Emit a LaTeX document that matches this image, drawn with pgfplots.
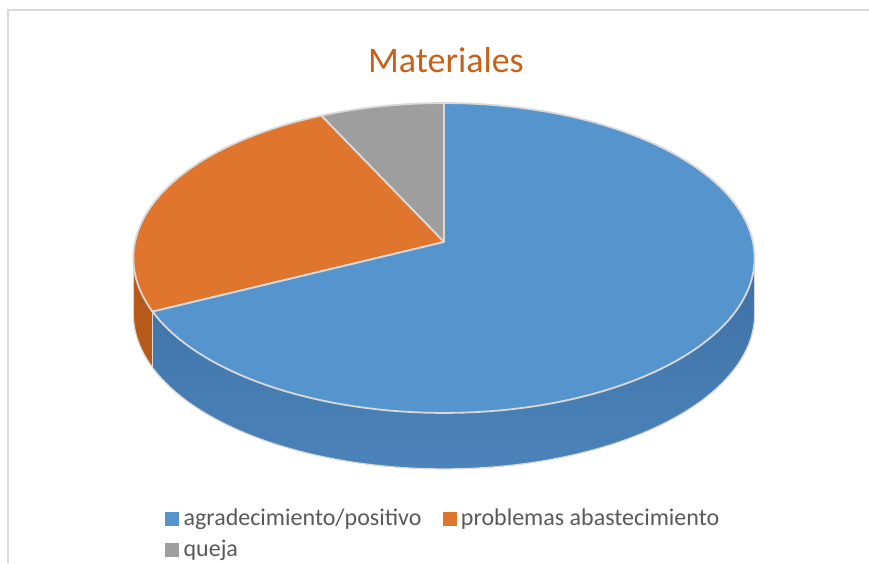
\documentclass[border=0pt]{standalone}
\usepackage{pgfplots}
\pgfplotsset{compat=1.18}
\usepackage{pgfplotstable}
\usepgfplotslibrary{fillbetween}
\usepackage{fontspec}
\setmainfont{Carlito}
\definecolor{cBlue}{HTML}{5694CE}
\definecolor{cBlueSideA}{HTML}{3E70A4}
\definecolor{cBlueSideB}{HTML}{4A85BE}
\definecolor{cBlueSideC}{HTML}{4B84BA}
\definecolor{cOrange}{HTML}{E0762E}
\definecolor{cOrangeSide}{HTML}{B65A1C}
\definecolor{cGray}{HTML}{9E9E9E}
\definecolor{cEdge}{HTML}{D9D9D9}
\definecolor{cTitle}{HTML}{C8601A}
\definecolor{cLegend}{HTML}{595959}
\definecolor{cFrame}{HTML}{D9D9D9}
\pgfplotstableread[col sep=comma]{
cat,value
agradecimiento/positivo,19
problemas abastecimiento,7
queja,2
}\piedata
\pgfplotstablegetelem{0}{value}\of\piedata \edef\va{\pgfplotsretval}
\pgfplotstablegetelem{1}{value}\of\piedata \edef\vb{\pgfplotsretval}
\pgfplotstablegetelem{2}{value}\of\piedata \edef\vc{\pgfplotsretval}
\pgfmathsetmacro\tot{\va+\vb+\vc}
\pgfmathsetmacro\tB{90+360*\vc/\tot}
\pgfmathsetmacro\tC{\tB+360*\vb/\tot}
\pgfmathsetmacro\tL{180+asin(0.1032)}
\pgfmathsetmacro\tR{360-asin(0.1032)}
\pgfmathsetmacro\xC{444+309*cos(\tC)/(1+0.1032*sin(\tC))}
\pgfmathsetmacro\yC{242-153.3*sin(\tC)/(1+0.1032*sin(\tC))}
\pgfmathsetmacro\yCb{\yC+56}
\pgfmathsetmacro\xL{444+309*cos(\tL)/(1+0.1032*sin(\tL))}
\pgfmathsetmacro\yL{242-153.3*sin(\tL)/(1+0.1032*sin(\tL))}
\pgfmathsetmacro\yLb{\yL+56}
\pgfmathsetmacro\xR{444+309*cos(\tR)/(1+0.1032*sin(\tR))}
\pgfmathsetmacro\yR{242-153.3*sin(\tR)/(1+0.1032*sin(\tR))}
\pgfmathsetmacro\yRb{\yR+56}
\begin{document}%
\begin{tikzpicture}
\begin{axis}[
  at={(0pt,0pt)}, anchor=south west,
  width=869pt, height=563pt, scale only axis,
  xmin=0, xmax=869, ymin=0, ymax=563, y dir=reverse,
  hide axis, samples=120,
  declare function={
    px(\t)=444+309*cos(\t)/(1+0.1032*sin(\t));
    py(\t)=242-153.3*sin(\t)/(1+0.1032*sin(\t));
  },
  legend columns=2,
  legend cell align=left,
  legend style={at={(axis cs:165,502.5)}, anchor=north west, draw=none, fill=none,
    font=\fontsize{24}{28}\selectfont, text=cLegend, inner sep=0pt,
    nodes={inner xsep=5pt, inner ysep=6.5pt},
    /tikz/every even column/.append style={column sep=16pt}},
]
% frame
\addplot[forget plot, cFrame, line width=1.5pt] coordinates {(8,563) (8,10) (869,10)};
% side faces
\addplot[forget plot, draw=none, name path=ot, domain=\tL:\tC] ({px(x)},{py(x)});
\addplot[forget plot, draw=none, name path=ob, domain=\tL:\tC] ({px(x)},{py(x)+56});
\addplot[forget plot, fill=cOrangeSide] fill between[of=ot and ob];
\addplot[forget plot, draw=none, name path=bt, domain=\tC:\tR] ({px(x)},{py(x)});
\addplot[forget plot, draw=none, name path=bb, domain=\tC:\tR] ({px(x)},{py(x)+56});
\addplot[forget plot, left color=cBlueSideA, middle color=cBlueSideB, right color=cBlueSideC, shading angle=0] fill between[of=bt and bb];
% side outlines
\addplot[forget plot, cEdge, line width=1.2pt, domain=\tL:\tR] ({px(x)},{py(x)+56});
\addplot[forget plot, cEdge, line width=1.2pt] coordinates {(\xC,\yC) (\xC,\yCb)};
\addplot[forget plot, cEdge, line width=1.2pt] coordinates {(\xL,\yL) (\xL,\yLb)};
\addplot[forget plot, cEdge, line width=1.2pt] coordinates {(\xR,\yR) (\xR,\yRb)};
% top faces
\addplot[forget plot, fill=cGray, draw=cEdge, line width=1.8pt, line join=round, domain=90:\tB] ({px(x)},{py(x)}) -- (axis cs:444,242) -- cycle;
\addplot[forget plot, fill=cOrange, draw=cEdge, line width=1.8pt, line join=round, domain=\tB:\tC] ({px(x)},{py(x)}) -- (axis cs:444,242) -- cycle;
\addplot[forget plot, fill=cBlue, draw=cEdge, line width=1.8pt, line join=round, domain=\tC:450] ({px(x)},{py(x)}) -- (axis cs:444,242) -- cycle;
% legend
\addlegendimage{legend image code/.code={\fill[cBlue] (0pt,-6.5pt) rectangle (13pt,6.5pt);}}
\addlegendentry{agradecimiento/positivo}
\addlegendimage{legend image code/.code={\fill[cOrange] (0pt,-6.5pt) rectangle (13pt,6.5pt);}}
\addlegendentry{problemas abastecimiento}
\addlegendimage{legend image code/.code={\fill[cGray] (0pt,-6.5pt) rectangle (13pt,6.5pt);}}
\addlegendentry{queja}
% title
\node[anchor=base, text=cTitle, font=\fontsize{36}{40}\selectfont, inner sep=0pt] at (axis cs:446,73) {Materiales};
\end{axis}
\pgfresetboundingbox
\path[use as bounding box] (0pt,0pt) rectangle (869pt,563pt);
\end{tikzpicture}%
\end{document}
